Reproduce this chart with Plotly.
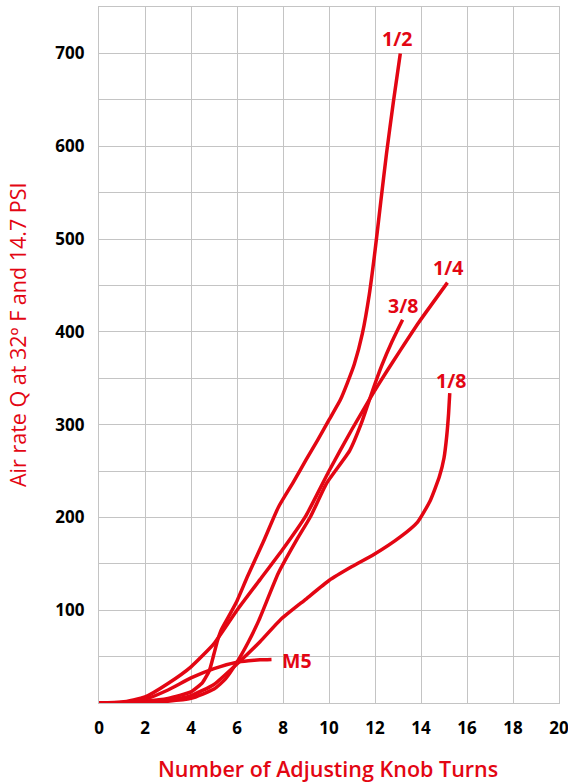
import plotly.graph_objects as go

# ---- data ----
x_half = [0, 1, 2, 3, 4, 4.5, 4.8, 5.0, 5.15, 5.3, 5.7, 6.0, 6.45, 7.15, 7.8, 8.45, 9.0, 9.5, 10.0, 10.5, 10.8, 11.1, 11.45, 11.75, 12.0, 12.25, 12.5, 12.8, 13.1]
y_half = [0, 0.5, 2, 5, 12, 22, 35, 53, 67, 78, 96, 110, 136, 174, 211, 238, 262, 283, 305, 327, 345, 365, 398, 440, 487, 540, 592, 648, 700]

x_quarter = [0, 1, 2, 3, 4, 5, 6, 7, 8, 9, 10, 11, 11.9, 12.5, 13.1, 13.9, 15.15]
y_quarter = [0, 1, 6.5, 21, 39, 64, 100, 133, 166, 202, 250, 295, 333, 357, 380, 410, 453]

x_38 = [0, 1, 2, 3, 4, 5, 5.5, 6, 6.5, 6.95, 7.8, 8.6, 9.2, 9.9, 10.9, 11.4, 11.9, 12.3, 12.75, 13.2]
y_38 = [0, 0.3, 1, 2, 5, 15, 26, 44, 66, 89, 140, 176, 201, 237, 272, 301, 337, 364, 390, 413]

x_eighth = [0, 1, 2, 3, 4, 5, 6, 7, 7.9, 9, 10, 11, 11.95, 13.1, 13.85, 14.4, 14.8, 15.0, 15.12, 15.2, 15.25]
y_eighth = [0, 0.3, 1, 3, 8, 20, 42, 66, 90, 112, 132, 147, 160, 179, 195, 218, 244, 264, 288, 312, 334]

x_m5 = [0, 1, 2, 3, 4, 5, 6, 6.5, 7, 7.5]
y_m5 = [0, 0.5, 4, 14, 27, 37, 44, 45.5, 46.5, 47]

series_names = ["1/2", "1/4", "3/8", "1/8", "M5"]
label_x = [12.96, 15.19, 13.2, 15.31, 7.85]
label_y = [716, 469, 428, 348, 46]

x_ticks = [0, 2, 4, 6, 8, 10, 12, 14, 16, 18, 20]
y_ticks = [100, 200, 300, 400, 500, 600, 700]

x_title = "Number of Adjusting Knob Turns"
y_title = "Air rate Q at 32º F and 14.7 PSI"

RED = "#e30613"
GRID = "#c4c4c4"
FONT = "Open Sans"

fig = go.Figure()
for xs, ys in [(x_half, y_half), (x_quarter, y_quarter), (x_38, y_38), (x_eighth, y_eighth), (x_m5, y_m5)]:
    fig.add_trace(go.Scatter(x=xs, y=ys, mode="lines",
                             line=dict(color=RED, width=3.5, shape="spline", smoothing=0.5),
                             showlegend=False, hoverinfo="skip"))

for name, lx, ly in zip(series_names, label_x, label_y):
    fig.add_annotation(x=lx, y=ly, text=name, showarrow=False,
                       xanchor="left" if name == "M5" else "center", yanchor="middle",
                       font=dict(family=FONT, size=19.5, color=RED, weight="bold"))

fig.add_annotation(xref="paper", yref="paper", x=(327.5 - 99) / 460, y=(782 - 768 - 79) / 696,
                   text=x_title, showarrow=False, xanchor="center", yanchor="middle",
                   font=dict(family=FONT, size=21.5, color=RED, weight=600))
fig.add_annotation(xref="paper", yref="paper", x=(17 - 99) / 460, y=(782 - 335 - 79) / 696,
                   text=y_title, showarrow=False, xanchor="center", yanchor="middle", textangle=-90,
                   font=dict(family=FONT, size=21.5, color=RED, weight=500))

fig.update_xaxes(range=[0, 20], tickvals=x_ticks, showgrid=True, gridcolor=GRID, gridwidth=1.3,
                 zeroline=False, showline=True, linecolor=GRID, linewidth=1.3, mirror=True,
                 ticks="", ticklabelstandoff=9, automargin=False, ticklabeloverflow="allow",
                 tickfont=dict(family=FONT, size=17, color="black", weight="bold"))
fig.update_yaxes(range=[0, 750], tickvals=y_ticks, showgrid=True, gridcolor=GRID, gridwidth=1.3,
                 minor=dict(tickvals=[50, 150, 250, 350, 450, 550, 650], showgrid=True, gridcolor=GRID, gridwidth=1.3),
                 zeroline=False, showline=True, linecolor=GRID, linewidth=1.3, mirror=True,
                 ticks="", ticklabelstandoff=10, automargin=False,
                 tickfont=dict(family=FONT, size=17, color="black", weight="bold"))

fig.update_layout(width=568, height=782, margin=dict(l=99, r=9, t=7, b=79),
                  plot_bgcolor="white", paper_bgcolor="white")

fig.write_html("out.html", config={"displayModeBar": False},
               post_script="document.body.style.margin='0px';document.body.style.overflow='hidden';")
